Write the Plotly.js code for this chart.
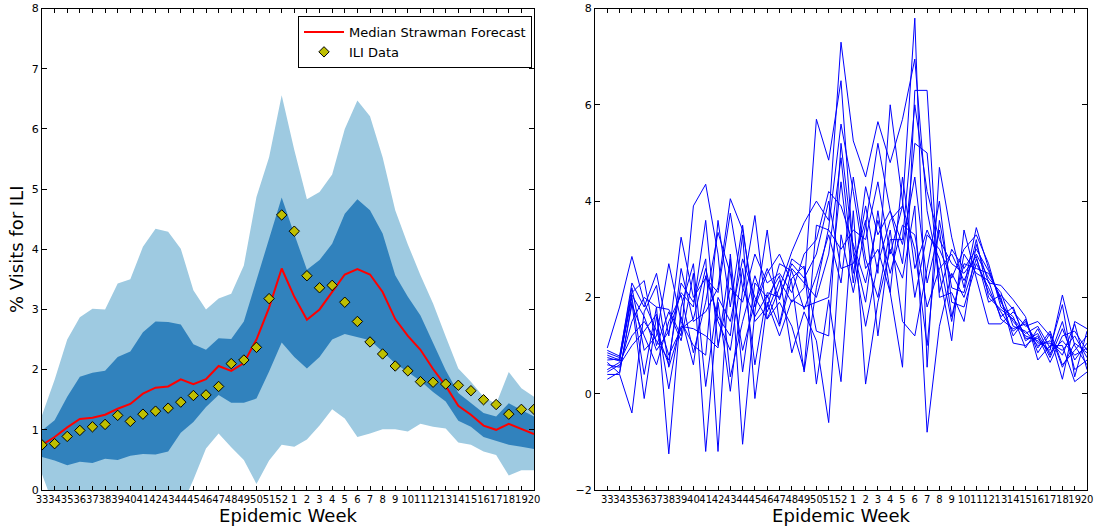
<!DOCTYPE html>
<html>
<head>
<meta charset="utf-8">
<script src="https://cdn.plot.ly/plotly-3.0.1.min.js"></script>
<style>
  html, body { margin: 0; padding: 0; background: #ffffff; }
  #chart { width: 1094px; height: 531px; }
</style>
</head>
<body>
<div id="chart"></div>
<script>
// Week labels (x categories)
const weekLabels = ["33","34","35","36","37","38","39","40","41","42","43","44","45","46","47","48","49","50","51","52",
                    "1","2","3","4","5","6","7","8","9","10","11","12","13","14","15","16","17","18","19","20"];

// Left panel: ILI observed data
const iliData = [0.75,0.77,0.89,0.99,1.05,1.09,1.24,1.14,1.26,1.31,1.36,1.46,1.57,1.58,1.72,2.10,2.16,2.37,3.18,4.57,
                 4.30,3.56,3.36,3.40,3.12,2.80,2.46,2.26,2.06,1.98,1.80,1.79,1.76,1.74,1.65,1.50,1.42,1.26,1.34,1.34];

// Left panel: median strawman forecast
const medianForecast = [0.75,0.88,1.04,1.18,1.20,1.25,1.35,1.43,1.60,1.70,1.72,1.84,1.76,1.84,2.06,1.98,2.11,2.50,3.03,3.68,
                        3.21,2.83,3.00,3.28,3.58,3.67,3.58,3.29,2.84,2.56,2.33,2.01,1.73,1.40,1.25,1.07,1.00,1.10,1.01,0.93];

// Left panel: outer (light) interval
const outerLower = [0.26,-0.3,-0.3,-0.3,-0.3,-0.3,-0.3,-0.3,-0.3,-0.3,-0.3,-0.3,0.17,0.69,0.94,0.71,0.50,0.10,0.49,0.75,
                    0.72,0.84,1.07,1.34,1.19,0.88,0.94,1.01,1.01,0.97,1.10,1.05,1.02,0.79,0.75,0.64,0.58,0.24,0.33,0.33];
const outerUpper = [1.24,1.83,2.50,2.87,3.01,3.00,3.43,3.50,4.04,4.34,4.29,4.01,3.32,3.00,3.18,3.26,3.73,4.87,5.53,6.56,
                    5.65,4.83,4.95,5.24,6.00,6.47,6.21,5.53,4.65,4.08,3.57,3.10,2.55,2.02,1.80,1.55,1.43,1.96,1.69,1.55];

// Left panel: inner (dark) interval
const innerLower = [0.55,0.49,0.41,0.47,0.45,0.52,0.50,0.57,0.60,0.59,0.64,0.95,1.13,1.38,1.58,1.45,1.45,1.52,1.97,2.45,
                    2.21,2.02,2.21,2.50,2.59,2.54,2.49,2.30,2.10,1.96,1.81,1.63,1.47,1.15,1.05,0.88,0.82,0.75,0.72,0.68];
const innerUpper = [0.99,1.16,1.55,1.88,1.95,1.98,2.21,2.30,2.62,2.80,2.79,2.75,2.42,2.33,2.52,2.51,2.80,3.50,4.20,4.86,
                    4.25,3.66,3.82,4.09,4.59,4.83,4.65,4.26,3.57,3.21,2.90,2.44,1.99,1.61,1.44,1.28,1.22,1.44,1.33,1.22];

// Right panel: sampled trajectories
const traj1  = [0.70,0.72,2.05,1.6,0.9,1.3,2.1,1.8,3.6,1.0,2.2,1.9,2.9,2.3,2.5,2.1,2.9,3.2,4.2,3.9,3.1,2.3,3.6,2.5,3.5,3.3,1.8,2.6,2.9,2.35,2.9,2.4,2.1,1.4,1.3,1.0,1.1,0.8,1.45,0.5];
const traj2  = [0.45,0.60,1.0,1.3,1.65,0.8,1.35,1.55,2.6,1.5,0.9,2.6,0.6,2.1,2.0,2.7,2.4,2.9,4.0,2.6,2.7,3.6,1.2,3.2,3.2,6.0,4.2,3.2,2.7,2.5,2.85,1.9,2.05,1.75,1.15,1.15,0.85,1.1,0.8,0.95];
const traj3  = [0.95,1.80,2.85,1.9,1.3,0.6,2.6,1.5,1.7,2.2,4.05,3.4,1.8,2.5,2.9,2.3,0.45,2.2,3.45,5.6,4.2,2.6,3.0,2.1,0.55,6.3,6.3,2.0,2.1,1.5,3.1,2.3,2.25,1.95,1.6,0.7,1.0,1.0,0.25,0.45];
const traj4  = [0.60,0.55,1.5,2.0,1.8,1.75,1.2,3.9,4.35,2.9,0.35,1.5,2.45,1.7,2.35,1.9,2.2,5.7,4.85,6.5,2.9,1.4,2.7,3.6,3.9,7.8,0.55,4.7,3.25,2.2,3.45,2.6,1.9,1.5,1.2,1.1,0.9,2.05,1.0,0.6];
const traj5  = [0.85,0.75,2.3,1.8,2.5,1.2,3.25,2.0,2.4,2.1,3.75,2.2,1.6,2.05,1.4,2.4,2.65,0.2,1.95,0.25,3.8,0.2,1.9,3.0,2.4,3.9,-0.8,1.4,2.5,2.0,2.8,2.1,1.7,1.3,1.5,0.95,1.3,0.6,0.9,1.2];
const traj6  = [0.30,0.45,1.85,1.2,0.6,1.5,2.05,0.85,1.9,3.35,2.5,0.9,1.9,2.6,1.95,2.8,2.6,1.3,1.2,5.2,3.0,1.9,3.8,2.1,4.5,2.6,3.4,2.8,1.5,2.9,2.5,2.35,1.55,1.35,1.45,1.05,1.05,0.9,1.2,0.75];
const traj7  = [0.80,0.70,2.1,2.35,1.0,1.7,1.1,2.5,-1.2,1.9,0.05,2.15,3.7,1.55,2.2,2.95,3.55,4.0,3.6,7.3,5.25,4.5,5.65,4.8,5.7,6.95,3.8,2.5,1.1,3.4,2.4,1.45,1.45,1.7,1.4,1.5,1.2,0.3,1.5,1.35];
const traj8  = [0.90,0.78,2.2,0.9,1.2,2.7,1.5,1.0,0.8,3.6,1.8,3.5,1.5,1.8,2.7,2.55,1.75,2.45,3.3,2.3,4.5,2.8,2.0,3.4,1.5,1.2,2.6,4.0,1.9,1.8,2.7,2.2,1.6,1.8,1.1,1.25,0.75,1.35,0.7,1.05];
const traj9  = [0.50,0.65,1.2,1.5,1.1,0.7,2.3,1.9,2.8,-1.2,2.9,0.45,2.3,2.0,2.45,0.85,1.7,1.1,-0.6,3.3,2.1,3.5,5.2,3.8,3.1,4.5,2.3,3.4,1.6,2.7,2.6,2.5,2.0,1.05,1.0,1.2,0.65,1.2,1.3,0.9];
const traj10 = [0.75,0.68,2.0,0.4,1.8,-1.25,1.8,2.7,0.15,2.0,1.5,2.8,2.0,1.55,1.9,1.4,0.5,3.5,3.4,3.0,3.4,3.2,4.4,2.9,3.9,3.0,1.0,3.6,2.2,2.1,3.2,2.0,1.75,1.55,1.25,1.4,0.95,1.85,0.35,1.3];
const traj11 = [0.40,0.40,-0.4,1.7,2.25,0.55,1.4,1.35,1.2,0.95,2.8,-1.05,1.7,3.4,1.45,2.6,2.3,2.0,2.9,4.9,2.5,3.9,2.5,6.0,4.0,2.0,3.3,3.0,2.4,3.0,3.3,2.7,1.8,1.6,0.95,1.35,0.8,1.5,0.5,0.7];
const traj12 = [0.65,0.42,1.9,-0.1,1.6,0.1,1.6,0.6,2.45,1.6,1.2,3.3,-0.1,1.9,1.2,1.95,1.8,1.9,2.0,4.4,2.3,4.3,3.3,3.8,2.7,5.2,5.0,2.1,3.0,2.6,3.0,2.55,1.95,1.2,1.55,0.85,1.25,0.55,1.05,0.85];
const trajectories = [traj1,traj2,traj3,traj4,traj5,traj6,traj7,traj8,traj9,traj10,traj11,traj12];

const xIdx = weekLabels.map((_, i) => i);
const FONT = "DejaVu Sans, sans-serif";

const traces = [
  {x: xIdx, y: outerLower, type: "scatter", mode: "lines", line: {width: 0, color: "#9ecae1"},
   showlegend: false, hoverinfo: "skip", xaxis: "x", yaxis: "y"},
  {x: xIdx, y: outerUpper, type: "scatter", mode: "lines", line: {width: 0, color: "#9ecae1"},
   fill: "tonexty", fillcolor: "#9ecae1", showlegend: false, hoverinfo: "skip", xaxis: "x", yaxis: "y"},
  {x: xIdx, y: innerLower, type: "scatter", mode: "lines", line: {width: 0, color: "#3182bd"},
   showlegend: false, hoverinfo: "skip", xaxis: "x", yaxis: "y"},
  {x: xIdx, y: innerUpper, type: "scatter", mode: "lines", line: {width: 0, color: "#3182bd"},
   fill: "tonexty", fillcolor: "#3182bd", showlegend: false, hoverinfo: "skip", xaxis: "x", yaxis: "y"},
  {x: xIdx, y: medianForecast, type: "scatter", mode: "lines", name: "Median Strawman Forecast",
   line: {color: "#ff0000", width: 2}, xaxis: "x", yaxis: "y"},
  {x: xIdx, y: iliData, type: "scatter", mode: "markers", name: "ILI Data",
   marker: {symbol: "diamond", size: 8, color: "#bfbf00", line: {color: "#000000", width: 1}},
   xaxis: "x", yaxis: "y"}
];

trajectories.forEach((t, k) => {
  traces.push({x: xIdx, y: t, type: "scatter", mode: "lines", line: {color: "#0000ff", width: 1},
               showlegend: false, name: "trajectory " + (k + 1), xaxis: "x2", yaxis: "y2"});
});

const commonX = {
  tickmode: "array", tickvals: xIdx, ticktext: weekLabels, ticks: "inside", ticklen: 4, tickwidth: 1,
  tickcolor: "#000", showline: true, linecolor: "#000", linewidth: 1, mirror: "ticks",
  showgrid: false, zeroline: false, tickangle: 0, tickfont: {family: FONT, size: 10, color: "#000"},
  automargin: false
};
const commonY = {
  ticks: "inside", ticklen: 5, tickwidth: 1, tickcolor: "#000", showline: true, linecolor: "#000",
  linewidth: 1, mirror: "ticks", showgrid: false, zeroline: false,
  tickfont: {family: FONT, size: 11, color: "#000"}, automargin: false
};

const layout = {
  width: 1094, height: 531,
  margin: {l: 0, r: 0, t: 0, b: 0},
  paper_bgcolor: "#ffffff", plot_bgcolor: "#ffffff",
  font: {family: FONT, color: "#000"},
  xaxis: Object.assign({}, commonX, {domain: [42/1094, 534/1094], range: [0, 39], anchor: "y",
    title: {text: "Epidemic Week", font: {family: FONT, size: 18, color: "#000"}, standoff: 5}}),
  yaxis: Object.assign({}, commonY, {domain: [41/531, 522.5/531], range: [0, 8], dtick: 1, anchor: "x",
    title: {text: "% Visits for ILI", font: {family: FONT, size: 18, color: "#000"}, standoff: 3}}),
  xaxis2: Object.assign({}, commonX, {domain: [595/1094, 1087/1094], range: [-1, 39], anchor: "y2",
    title: {text: "Epidemic Week", font: {family: FONT, size: 18, color: "#000"}, standoff: 5}}),
  yaxis2: Object.assign({}, commonY, {domain: [41/531, 522.5/531], range: [-2, 8], dtick: 2, anchor: "x2"}),
  showlegend: true,
  legend: {x: 298/1094, y: (531-16)/531, xanchor: "left", yanchor: "top", traceorder: "normal",
           bgcolor: "#ffffff", bordercolor: "#000", borderwidth: 1, itemwidth: 40,
           font: {family: FONT, size: 13, color: "#000"}, tracegroupgap: 0}
};

Plotly.newPlot("chart", traces, layout, {displayModeBar: false, staticPlot: true});
</script>
</body>
</html>
